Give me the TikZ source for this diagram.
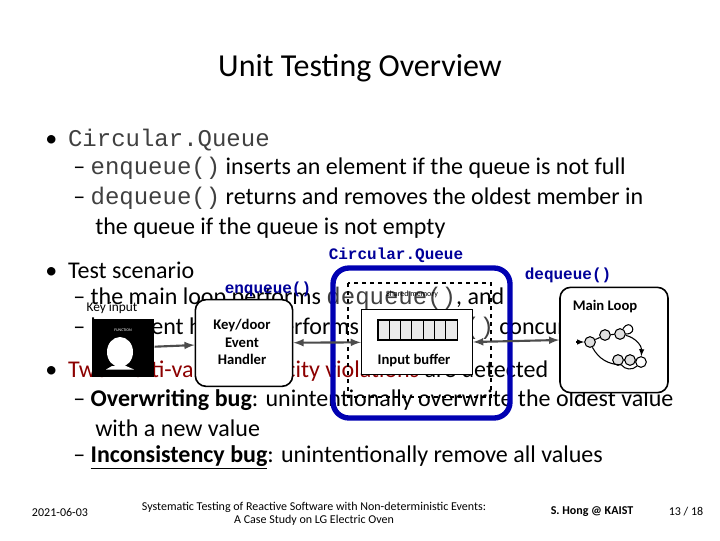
\documentclass[tikz,border=0pt]{standalone}
\usepackage{fontspec}
\setmainfont{Carlito}
\setmonofont{Liberation Mono}
\begin{document}
\begin{tikzpicture}[x=0.75pt,y=-0.75pt,
  body/.style={anchor=west,font=\fontsize{18}{20}\selectfont,inner sep=0},
  mono/.style={font=\ttfamily\fontsize{12}{13}\selectfont\bfseries,text=blue!60!black},
  box/.style={draw,very thick,rounded corners=8pt,fill=white},
  arr/.style={draw=black!70,line width=1.6pt,-latex},
  st/.style={circle,draw,thick,fill=black!12,minimum size=8pt,inner sep=0}]
\useasboundingbox (0,0) rectangle (720,540);
\node (title) at (360,68) {\fontsize{24}{28}\selectfont Unit Testing Overview};
\node[body] (b1) at (45,140) {\textbullet\ \ \texttt{\color{black!75}Circular.Queue}};
\node[body] (b2) at (73,168) {– \texttt{\color{black!75}enqueue()} inserts an element if the queue is not full};
\node[body] (b3) at (73,198) {– \texttt{\color{black!75}dequeue()} returns and removes the oldest member in};
\node[body] (b4) at (95,228) {the queue if the queue is not empty};
\node[body] (b5) at (45,270) {\textbullet\ \ Test scenario};
\node[body] (b6) at (73,298) {– the main loop performs \texttt{\color{black!75}dequeue()}, and};
\node[body] (b7) at (73,328) {– key event handler performs \texttt{\color{black!75}enqueue()} concurrently};
\node[body] (b8) at (45,371) {\textbullet\ \ \textcolor{red!55!black}{Two multi-value atomicity violations} are detected};
\node[body] (b9) at (73,400) {– \textbf{Overwriting bug}: unintentionally overwrite the oldest value};
\node[body] (b10) at (95,428) {with a new value};
\node[body] (b11) at (73,457) {– \underline{\textbf{Inconsistency bug}}: unintentionally remove all values};
% diagram
\draw[blue!70!black,line width=4pt,rounded corners=12pt] (333,268) rectangle (510,418);
\draw[dashed,thick] (348,283) rectangle (491,397);
\node[font=\fontsize{6}{7}\selectfont] (sm) at (412,294) {Shared memory};
\node[mono] (cq) at (396,255) {Circular.Queue};
\node[mono] (dq) at (568,275) {dequeue()};
\node[mono] (eq) at (268,289) {enqueue()};
\node[box,minimum width=73pt,minimum height=65pt] (kd) at (244,343) {};
\node[font=\bfseries\fontsize{11}{13}\selectfont,align=center] (kdt) at (242,342) {Key/door\\Event\\Handler};
\node[draw,very thick,fill=white,minimum width=83pt,minimum height=49pt] (ib) at (417,342) {};
\node[font=\bfseries\fontsize{11}{13}\selectfont] (ibt) at (414,360) {Input buffer};
\foreach \i in {0,...,6}{\draw[thick,fill=black!8] (378+\i*11.3,320) rectangle (389.3+\i*11.3,340);}
\node[box,minimum width=81pt,minimum height=79pt] (ml) at (614,340) {};
\node[font=\bfseries\fontsize{11}{13}\selectfont] (mlt) at (605,306) {Main Loop};
\node[fill=black,minimum width=47pt,minimum height=43pt,inner sep=0] (img) at (123,348) {};
\fill[white] (120,352) ellipse (13 and 15);
\fill[white] (112,366) -- (126,366) -- (134,369.5) -- (106,369.5) -- cycle;
\node[font=\fontsize{3}{4}\selectfont,text=white] (fn) at (123,330) {FUNCTION};
\node[font=\fontsize{10}{11}\selectfont] (ki) at (112,308) {Key input};
\draw[arr] (img) -- (kd);
\draw[arr,latex-latex] (kd) -- (ib);
\draw[arr,latex-latex] (ib.east) -- (ml.west);
% state machine
\node[st] (s1) at (590,342) {};
\node[st] (s2) at (605,335) {};
\node[st] (s3) at (620,334) {};
\node[st] (s4) at (618,360) {};
\node[st] (s5) at (630,360) {};
\node[st,fill=white] (s6) at (641,362) {};
\coordinate (in) at (576,342);
\draw[thick,-latex] (in) -- (s1);
\draw[thick] (s1) -- (s2) -- (s3);
\draw[thick,-latex] (s3) to[bend left=40] (s6);
\draw[thick] (s6) to[bend left=50] (s4) to[bend left=30] (s1);
\draw[thick] (s4) -- (s5);
\draw[thick] (s3) to[out=60,in=0,looseness=6] (s3);
% footer
\node[font=\fontsize{9}{10}\selectfont] (d) at (60,512) {2021-06-03};
\node[font=\fontsize{9}{10}\selectfont,align=center] (f) at (314,514) {Systematic Testing of Reactive Software with Non-deterministic Events:\\A Case Study on LG Electric Oven};
\node[font=\bfseries\fontsize{9}{10}\selectfont] (a) at (592,512) {S. Hong @ KAIST};
\node[font=\fontsize{9}{10}\selectfont] (p) at (686,512) {13 / 18};
\end{tikzpicture}
\end{document}
